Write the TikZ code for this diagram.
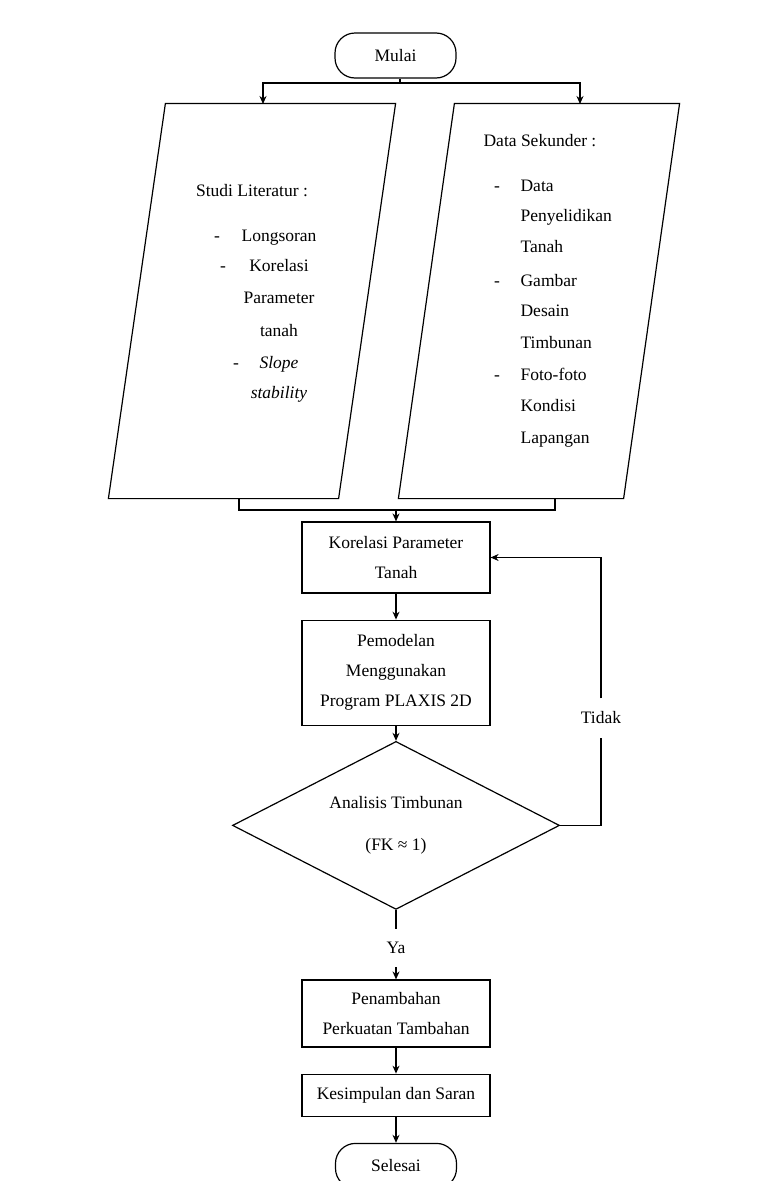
\documentclass[tikz,border=0pt]{standalone}
\usepackage{fontspec}
\setmainfont{Liberation Serif}
\usetikzlibrary{arrows.meta, shapes.geometric, positioning}

\begin{document}
\begin{tikzpicture}[x=1pt,y=-1pt,>={Stealth[length=8pt,width=7pt]},
      line width=1.2pt, node distance=26pt,
      every node/.style={font=\fontsize{17.5}{30}\selectfont},
      proses/.style={draw,minimum width=188pt,align=center,inner sep=0pt},
      terminal/.style={draw,rounded corners=20pt,minimum width=121pt,minimum height=45pt},
      keputusan/.style={draw,diamond,shape aspect=1.95,minimum width=327pt,minimum height=168pt,
                        inner sep=0pt,align=center},
      miring/.style={minimum width=#1,minimum height=394pt,inner sep=0pt},
      teks/.style={inner sep=0pt,anchor=base},
      ket/.style={inner xsep=2pt,inner ysep=13pt}]
      \useasboundingbox (0,0) rectangle (763,1181);
      \fill[white] (0,0) rectangle (763,1181);

      \node[terminal] (mulai) at (395.5,55.5) {Mulai};

      % dua masukan
      \node[miring=286pt] (lit) at (252,301) {};
      \node[miring=280pt] (sek) at (539,301) {};
      \draw (lit.south west) -- ([xshift=57pt]lit.north west) -- (lit.north east)
            -- ([xshift=-57pt]lit.south east) -- cycle;
      \draw (sek.south west) -- ([xshift=56pt]sek.north west) -- (sek.north east)
            -- ([xshift=-56pt]sek.south east) -- cycle;

      \node[teks] (lit-judul) at (252,196) {Studi Literatur :};
      \foreach \y/\isi in {241/Longsoran, 271/Korelasi, 303/Parameter, 336/tanah,
                           368/\textit{Slope}, 398/\textit{stability}}
        \node[teks] (lit-\y) at (279,\y) {\isi};
      \foreach \x/\y in {217/241, 223/271, 236/368}
        \node[teks] (litstrip-\y) at (\x,\y) {-};

      \node[teks,anchor=base west] (sek-judul) at (483,146) {Data Sekunder :};
      \foreach \y/\isi in {191/Data, 221/Penyelidikan, 252/Tanah, 286/Gambar, 316/Desain,
                           348/Timbunan, 380/Foto-foto, 411/Kondisi, 443/Lapangan}
        \node[teks,anchor=base west] (sek-\y) at (520,\y) {\isi};
      \foreach \y in {191,286,380}
        \node[teks] (sekstrip-\y) at (497,\y) {-};

      % alur utama
      \node[proses,minimum height=71pt] (korelasi) at (396,557.5) {Korelasi Parameter\\Tanah};
      \node[proses,minimum height=105pt] (pemodelan) [below=of korelasi]
            {Pemodelan\\Menggunakan\\Program PLAXIS 2D};
      \node[keputusan] (analisis) [below=15pt of pemodelan] {Analisis Timbunan\\[12pt](FK ≈ 1)};
      \node[ket] (ya) at (396,948) {Ya};
      \node[ket] (tidak) at (601,718) {Tidak};
      \node[proses,minimum height=67pt] (penambahan) at (396,1013.5)
            {Penambahan\\Perkuatan Tambahan};
      \node[proses,minimum height=42pt] (kesimpulan) [below=of penambahan] {Kesimpulan dan Saran};
      \node[terminal] (selesai) [below=of kesimpulan] {Selesai};

      \coordinate (cabang) at (400,83);
      \coordinate (litin) at (263,104);
      \coordinate (sekin) at (580,104);
      \coordinate (litout) at (239,498);
      \coordinate (sekout) at (555,498);
      \coordinate (gabung) at (396,510);

      \draw (mulai.south -| cabang) -- (cabang);
      \draw[->] (cabang) -| (litin);
      \draw[->] (cabang) -| (sekin);
      \draw (litout) |- (gabung) -| (sekout);
      \draw[->] (gabung) -- (korelasi.north);
      \draw[->] (korelasi) -- (pemodelan);
      \draw[->] (pemodelan) -- (analisis);
      \draw[->] (analisis.south) -- (ya.north) (ya.south) -- (penambahan.north);
      \draw[->] (analisis.east) -| (tidak.south) (tidak.north) |- (korelasi.east);
      \draw[->] (penambahan) -- (kesimpulan);
      \draw[->] (kesimpulan) -- (selesai);
    \end{tikzpicture}
\end{document}
